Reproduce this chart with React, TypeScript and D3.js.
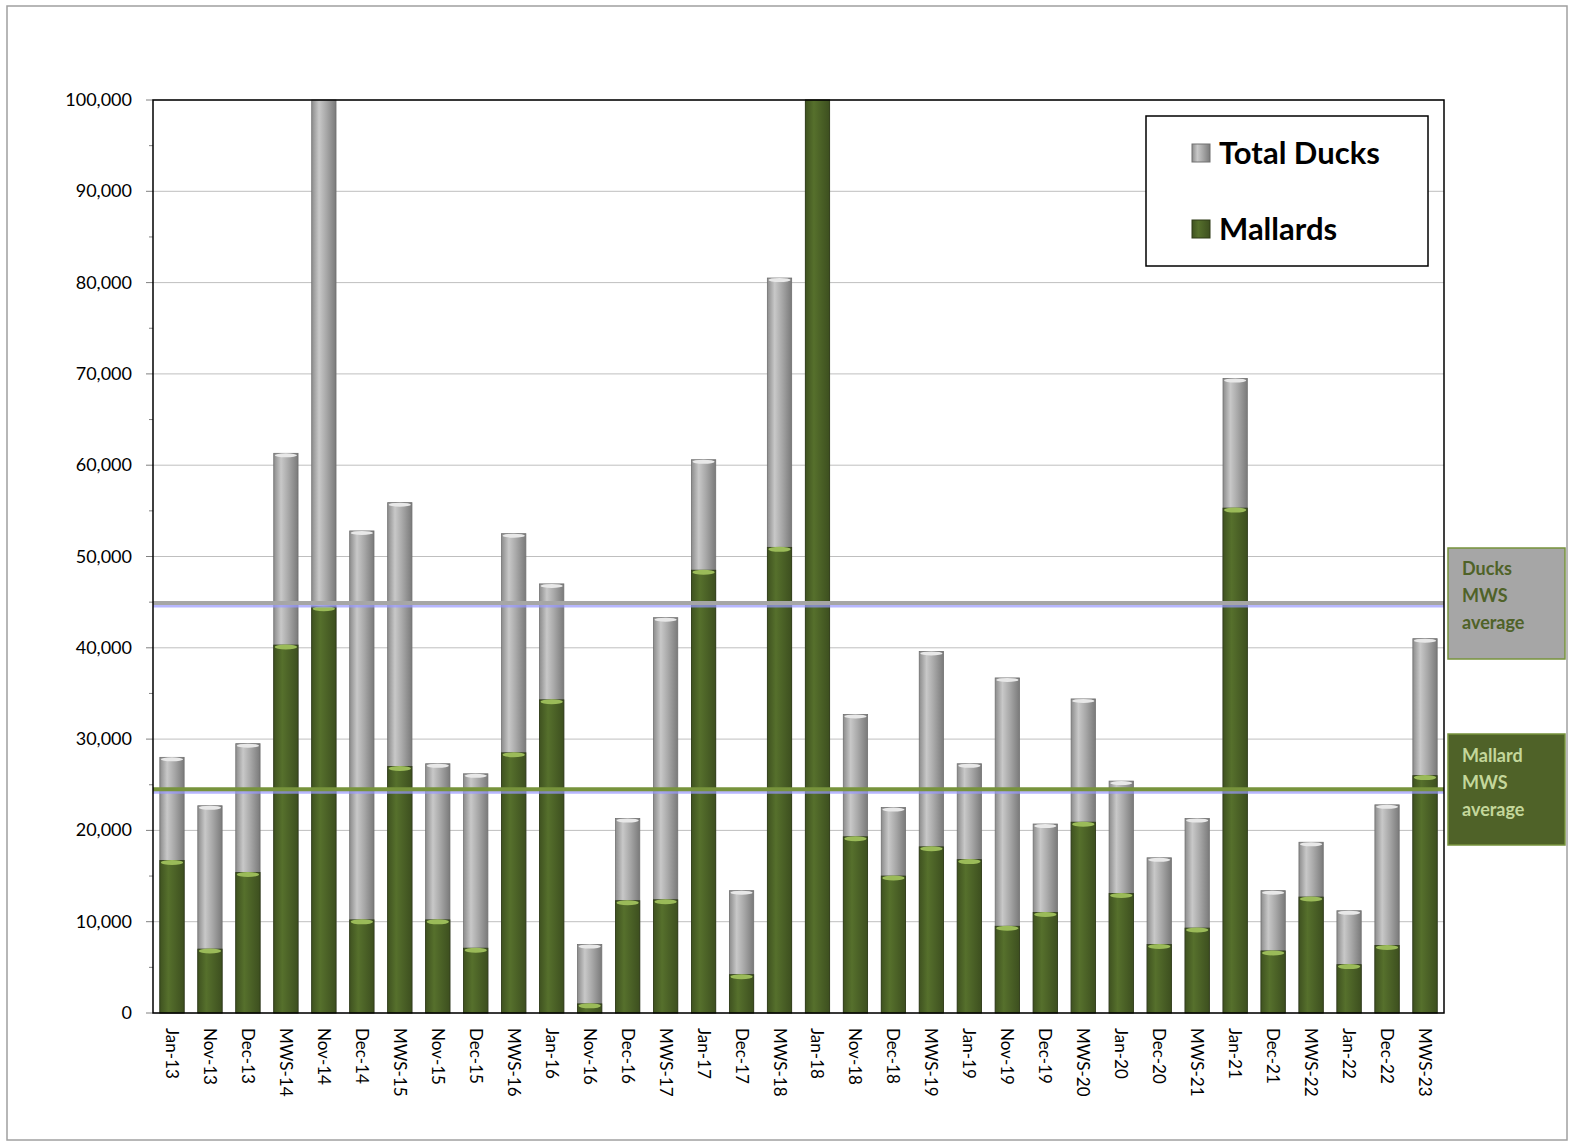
import React from "react";
import * as d3 from "d3";

const categories = ["Jan-13","Nov-13","Dec-13","MWS-14","Nov-14","Dec-14","MWS-15","Nov-15","Dec-15","MWS-16","Jan-16","Nov-16","Dec-16","MWS-17","Jan-17","Dec-17","MWS-18","Jan-18","Nov-18","Dec-18","MWS-19","Jan-19","Nov-19","Dec-19","MWS-20","Jan-20","Dec-20","MWS-21","Jan-21","Dec-21","MWS-22","Jan-22","Dec-22","MWS-23"];
const totalDucks = [28000,22700,29500,61300,120000,52800,55900,27300,26200,52500,47000,7500,21300,43300,60600,13400,80500,120000,32700,22500,39600,27300,36700,20700,34400,25400,17000,21300,69500,13400,18700,11200,22800,41000];
const mallards = [16700,7000,15400,40300,44500,10200,27000,10200,7100,28500,34300,1000,12300,12400,48500,4200,51000,115000,19300,15000,18200,16800,9500,11000,20900,13100,7500,9300,55300,6800,12700,5300,7400,26000];
const duckAvg = 44900;
const mallardAvg = 24500;
const yTicks = d3.range(0, 100001, 10000);

const L = 153, R = 1444, T = 100, B = 1013;
const font = "Lato, 'Open Sans', sans-serif";

export default function App() {
  const x = d3.scaleBand().domain(categories).range([L, R]).paddingInner(0.36).paddingOuter(0.18);
  const y = d3.scaleLinear().domain([0, 100000]).range([B, T]).clamp(true);
  const bw = x.bandwidth();
  const fmt = d3.format(",");
  return (
    <div style={{ position: "fixed", left: 0, top: 0, width: 1574, height: 1148, overflow: "hidden" }}>
    <svg width={1574} height={1148} style={{ display: "block", background: "#fff" }}>
      <defs>
        <linearGradient id="gg" x1="0" x2="1" y1="0" y2="0">
          <stop offset="0" stopColor="#8c8c8c" />
          <stop offset="0.3" stopColor="#c8c8c8" />
          <stop offset="0.6" stopColor="#a8a8a8" />
          <stop offset="1" stopColor="#7a7a7a" />
        </linearGradient>
        <linearGradient id="gm" x1="0" x2="1" y1="0" y2="0">
          <stop offset="0" stopColor="#3f5220" />
          <stop offset="0.35" stopColor="#56702c" />
          <stop offset="1" stopColor="#3d4f1f" />
        </linearGradient>
      </defs>
      <rect x={7} y={6} width={1560} height={1134} fill="#fff" stroke="#a0a0a0" strokeWidth={1.5} />
      {yTicks.map(t => (
        <g key={t}>
          <line x1={L} x2={R} y1={y(t)} y2={y(t)} stroke="#bfbfbf" strokeWidth={1} />
          <line x1={L - 7} x2={L} y1={y(t)} y2={y(t)} stroke="#808080" />
          {t < 100000 && <line x1={L - 4} x2={L} y1={y(t + 5000)} y2={y(t + 5000)} stroke="#808080" />}
          <text x={132} y={y(t) + 6} textAnchor="end" fontFamily={font} fontSize={18} fill="#000">{fmt(t)}</text>
        </g>
      ))}
      {categories.map((c, i) => {
        const x0 = x(c)!;
        const yt = y(totalDucks[i]), ym = y(mallards[i]);
        return (
          <g key={c}>
            <rect x={x0} y={yt} width={bw} height={B - yt} fill="url(#gg)" stroke="#707070" strokeWidth={0.8} />
            {totalDucks[i] <= 100000 && <ellipse cx={x0 + bw / 2} cy={yt + 2} rx={bw / 2 - 1} ry={2} fill="#e8e8e8" />}
            <rect x={x0} y={ym} width={bw} height={B - ym} fill="url(#gm)" stroke="#2e3b17" strokeWidth={0.8} />
            {mallards[i] <= 100000 && <ellipse cx={x0 + bw / 2} cy={ym + 2} rx={bw / 2 - 1} ry={2.5} fill="#9bbb59" />}
            <text transform={`translate(${x0 + bw / 2 - 6},1028) rotate(90)`} fontFamily={font} fontSize={17} fill="#000">{c}</text>
          </g>
        );
      })}
      <line x1={L} x2={R} y1={y(duckAvg) + 3} y2={y(duckAvg) + 3} stroke="#9999ff" strokeWidth={3} opacity={0.7} />
      <line x1={L} x2={R} y1={y(duckAvg)} y2={y(duckAvg)} stroke="#a6a6a6" strokeWidth={4} />
      <line x1={L} x2={R} y1={y(mallardAvg) + 3} y2={y(mallardAvg) + 3} stroke="#9999ff" strokeWidth={3} opacity={0.7} />
      <line x1={L} x2={R} y1={y(mallardAvg)} y2={y(mallardAvg)} stroke="#77933c" strokeWidth={4} />
      <rect x={L} y={T} width={R - L} height={B - T} fill="none" stroke="#000" strokeWidth={1.5} />
      <rect x={1146} y={116} width={282} height={150} fill="#fff" stroke="#000" strokeWidth={1.5} />
      <rect x={1192} y={144} width={18} height={18} fill="url(#gg)" stroke="#707070" />
      <text x={1219} y={164} fontFamily={font} fontWeight="bold" fontSize={31}>Total Ducks</text>
      <rect x={1192} y={220} width={18} height={18} fill="url(#gm)" stroke="#2e3b17" />
      <text x={1219} y={240} fontFamily={font} fontWeight="bold" fontSize={31}>Mallards</text>
      <rect x={1448} y={548} width={117} height={111} fill="#a6a6a6" stroke="#77933c" strokeWidth={1.5} />
      {["Ducks", "MWS", "average"].map((s, i) => (
        <text key={s} x={1462} y={575 + i * 27} fontFamily={font} fontWeight="bold" fontSize={18} fill="#4f6228">{s}</text>
      ))}
      <rect x={1448} y={734} width={117} height={111} fill="#4f6228" stroke="#77933c" strokeWidth={1.5} />
      {["Mallard", "MWS", "average"].map((s, i) => (
        <text key={s} x={1462} y={762 + i * 27} fontFamily={font} fontWeight="bold" fontSize={18} fill="#c4d79b">{s}</text>
      ))}
    </svg>
    </div>
  );
}
